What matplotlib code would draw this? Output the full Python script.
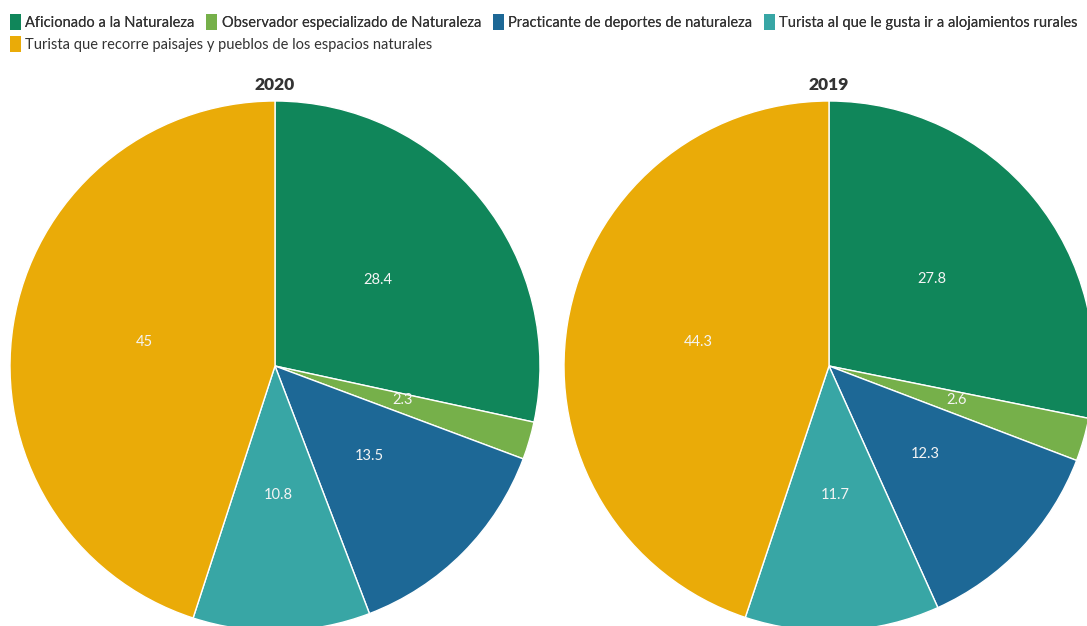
import matplotlib.pyplot as plt
from matplotlib.patches import Patch

plt.rcParams['font.family'] = ['Lato', 'DejaVu Sans']

categories = ['Aficionado a la Naturaleza',
              'Observador especializado de Naturaleza',
              'Practicante de deportes de naturaleza',
              'Turista al que le gusta ir a alojamientos rurales',
              'Turista que recorre paisajes y pueblos de los espacios naturales']
colors = ['#10865A', '#76B04A', '#1D6896', '#38A6A5', '#EAAB08']
years = ['2020', '2019']
values_2020 = [28.4, 2.3, 13.5, 10.8, 45]
values_2019 = [27.8, 2.6, 12.3, 11.7, 44.3]

fig = plt.figure(figsize=(10.87, 6.26), dpi=100)
W, H = 1087, 626

def draw_pie(cx, cy, r, vals, title):
    ax = fig.add_axes([(cx - r) / W, (H - cy - r) / H, 2 * r / W, 2 * r / H])
    wedges, texts = ax.pie(vals, colors=colors, startangle=90, counterclock=False,
                           labels=[f'{v:g}' for v in vals], labeldistance=0.5,
                           textprops=dict(color='#f4f4f4', fontsize=10.5,
                                          ha='center', va='center'),
                           wedgeprops=dict(edgecolor='white', linewidth=1))
    # labels sit a touch higher in the original
    for t in texts:
        x, y = t.get_position()
        t.set_position((x, y + 0.012))
    ax.set_xlim(-1, 1)
    ax.set_ylim(-1, 1)
    ax.set_aspect('equal')
    fig.text(cx / W, (H - 85) / H, title, ha='center', va='center',
             fontsize=12.5, fontweight='heavy', color='#333333')

draw_pie(275, 366, 265, values_2020, years[0])
draw_pie(829, 366, 265, values_2019, years[1])

handles = [Patch(facecolor=c, edgecolor='none') for c in colors]
leg_kw = dict(frameon=False, fontsize=10.5, handlelength=0.75, handleheight=1.35,
              handletextpad=0.3, columnspacing=0.8, borderpad=0, borderaxespad=0,
              labelcolor='#333333')
leg1 = fig.legend(handles[:4], categories[:4], ncol=4, loc='center left',
                  bbox_to_anchor=(10 / W, (H - 22) / H), **leg_kw)
fig.add_artist(leg1)
fig.legend(handles[4:], categories[4:], loc='center left',
           bbox_to_anchor=(10 / W, (H - 44) / H), **leg_kw)

fig.savefig('out.png', dpi=100)
